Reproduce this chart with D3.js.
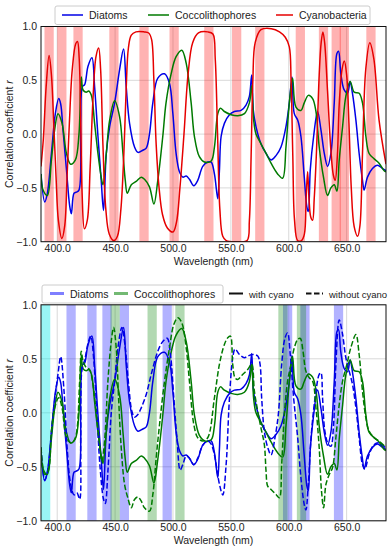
<!doctype html>
<html lang="en">
<head>
<meta charset="utf-8">
<title>Correlation coefficient vs wavelength</title>
<script src="https://d3js.org/d3.v7.min.js"></script>
<style>
  body { margin: 0; background: #fff; }
  svg { display: block; font-family: "Liberation Sans", Arial, sans-serif; }
  .grid line { stroke: #d9d9d9; stroke-width: 1; }
  .tick text { font-size: 10.5px; fill: #222; }
  .lab { font-size: 10.5px; fill: #222; }
  .leg { font-size: 10.5px; fill: #222; }
  .leg2 { font-size: 9.5px; fill: #222; }
</style>
</head>
<body>
<svg id="chart" width="391" height="550"></svg>
<script>
// wavelength (nm), correlation r
var diatoms = [[386,-0.37],[389.2,-0.63],[391.5,-0.55],[395,-0.18],[398.4,0.19],[401.3,0.33],[403,0.28],[405,0.04],[408,-0.33],[410.8,-0.67],[412.2,-0.74],[414.5,-0.55],[416.5,-0.54],[418.8,-0.52],[420.3,0.13],[421.7,0.44],[423.7,0.46],[426.6,0.63],[430,0.71],[432.3,0.44],[435.2,-0.02],[438,-0.43],[440,-0.71],[442.4,-0.18],[445.3,0.07],[449.6,0.29],[453.9,0.6],[457.3,0.79],[459.6,0.44],[462.5,0.1],[466.8,-0.12],[469.7,-0.17],[474,-0.15],[476.9,-0.13],[479.7,0.0],[482.6,0.29],[486.9,0.52],[492.7,0.56],[497,0.47],[499.9,0.19],[502.7,-0.18],[505.6,-0.35],[508.5,-0.4],[511.4,-0.39],[514.2,-0.42],[518,-0.48],[521.4,-0.43],[525.7,-0.3],[530,-0.26],[533,-0.26],[535.8,-0.37],[538.7,-0.6],[540.1,-0.34],[541.6,-0.02],[544.4,0.1],[548.8,0.18],[553,0.21],[558.8,0.22],[563.1,0.27],[566,0.35],[568,0.55],[569.4,0.22],[571.7,0.07],[576,-0.09],[580.4,-0.18],[584.7,-0.24],[589,-0.2],[593.3,-0.12],[597.6,0.07],[600.5,0.29],[602.8,0.53],[604.8,0.19],[607.7,0.13],[610.5,-0.02],[613.4,-0.4],[615.7,-0.68],[616.9,-0.72],[618.6,-0.33],[621.5,-0.02],[624.9,0.21],[627.8,0.04],[630.7,-0.18],[633.5,-0.3],[636.4,-0.18],[639.3,0.29],[641.6,0.75],[643,0.77],[645,0.56],[647.9,0.41],[650.8,0.38],[653,0.49],[655,0.38],[658,0.13],[660.8,-0.18],[663.7,-0.43],[665.1,-0.52],[668,-0.4],[672.3,-0.32],[676.6,-0.29],[681,-0.32],[684,-0.34]];

var cocco = [[386,-0.37],[387.8,-0.52],[391.5,-0.57],[395,-0.24],[397.8,0.04],[400.7,0.19],[404.2,0.1],[408,-0.18],[411.6,-0.28],[415.7,-0.24],[418.8,0.0],[420.8,0.53],[422.3,0.41],[425,0.39],[427.2,0.4],[429.5,0.36],[432.3,0.1],[435.2,-0.18],[438,-0.4],[439.5,-0.47],[442.4,-0.18],[445.3,0.13],[449.6,0.31],[453.9,0.16],[456.8,-0.18],[458.8,-0.43],[460.5,-0.55],[464,-0.47],[468.2,-0.44],[472.6,-0.4],[475.4,-0.42],[479.7,-0.49],[483.5,-0.65],[486.9,-0.43],[491.2,-0.02],[494,0.29],[498.4,0.56],[502.7,0.72],[507.6,0.78],[511.4,0.66],[515.7,0.29],[518.5,-0.02],[522.8,-0.21],[527.2,-0.26],[533,-0.25],[535.8,-0.12],[538.7,0.19],[541,0.24],[544.4,0.21],[550.2,0.18],[556,0.17],[561.7,0.19],[566,0.29],[568,0.45],[569.7,0.13],[571.7,0.0],[576,-0.09],[580.4,-0.18],[584.7,-0.27],[590.4,-0.37],[594.7,-0.41],[597.6,-0.12],[600.5,0.29],[603.3,0.52],[606.2,0.25],[610.5,0.22],[613.4,0.29],[616.9,0.36],[620.6,0.33],[623.5,0.21],[626.3,-0.12],[630,-0.4],[633.5,-0.57],[636.4,-0.5],[639.3,-0.47],[641.6,-0.53],[643.6,-0.24],[646.5,0.07],[649.3,0.35],[653,0.49],[656.5,0.39],[660.8,0.38],[663.7,0.29],[666.6,-0.02],[669.4,-0.18],[673.8,-0.23],[678,-0.27],[682.4,-0.34],[684,-0.35]];

var cyano = [[386,-0.3],[388,-0.05],[390.5,0.45],[393,0.73],[395,0.55],[397,0.1],[399,-0.4],[401,-0.8],[404,-0.97],[406.5,-0.85],[408.5,-0.4],[410.5,0.1],[413,0.6],[416,0.84],[417.5,0.86],[419,0.7],[420.5,0.0],[421.5,-0.55],[423.5,-0.88],[426,-0.8],[428.5,-0.3],[431,0.35],[433.5,0.72],[435.8,0.8],[437.5,0.6],[439.5,-0.1],[442,-0.7],[445,-0.93],[449,-0.99],[452,-0.95],[455,-0.7],[457.5,-0.2],[459.5,0.4],[461.5,0.8],[464,0.92],[468,0.95],[475,0.95],[479,0.94],[481.5,0.88],[483.5,0.5],[485.5,-0.1],[488,-0.5],[491,-0.75],[495,-0.87],[500,-0.91],[503,-0.82],[506,-0.5],[509.5,0.0],[513,0.55],[517,0.85],[522,0.94],[530,0.95],[534.5,0.93],[536.5,0.7],[538.5,0.0],[540.5,-0.7],[543,-0.95],[546,-0.99],[556,-1.0],[564,-0.99],[566,-0.8],[567.5,-0.2],[569,0.5],[571,0.85],[576,0.97],[585,0.98],[592,0.95],[597,0.9],[600.5,0.81],[602,0.5],[603.5,-0.2],[605,-0.8],[607.7,-0.99],[611,-0.99],[613.5,-0.93],[615,-0.6],[616.3,-0.35],[617.5,-0.6],[619,-0.77],[620.6,-0.8],[622,-0.6],[624,-0.15],[626.3,0.55],[628,0.85],[629.5,0.95],[631,0.85],[633.5,0.4],[636.4,-0.15],[638.5,-0.38],[640.1,-0.43],[642,-0.2],[643.6,0.28],[646,0.6],[648,0.68],[650,0.55],[652,0.1],[654,-0.5],[656.5,-0.86],[659.5,-0.95],[661.5,-0.85],[663.7,-0.18],[666.5,0.6],[670,0.85],[673.5,0.7],[678,0.13],[684,-0.28]];

var diatomsNoCyano = [[386,-0.32],[389.2,-0.62],[391.5,-0.55],[396.4,-0.02],[400.7,0.36],[403,0.52],[405.9,0.2],[408.8,-0.36],[411.6,-0.66],[414.5,-0.76],[417,-0.74],[419.4,-0.8],[420.3,-0.2],[421.4,0.4],[424,0.5],[427,0.66],[429,0.71],[431.5,0.5],[434,0.05],[437,-0.5],[440,-0.8],[441.5,-0.84],[443.8,-0.54],[446.7,0.0],[449.6,0.29],[452.4,0.6],[455.9,0.79],[458.8,0.6],[461.7,0.26],[464.5,0.015],[466.8,-0.04],[469.7,-0.015],[472.6,0.046],[476.9,0.17],[481.2,0.355],[486.9,0.57],[491.2,0.66],[495,0.69],[497.8,0.54],[500.7,0.14],[503.6,-0.26],[506.2,-0.53],[508.5,-0.48],[511.4,-0.4],[514.2,-0.42],[518,-0.48],[521.4,-0.42],[525.7,-0.3],[530,-0.26],[533,-0.29],[535.8,-0.39],[537.3,-0.48],[540.1,-0.66],[543,-0.76],[545.9,-0.48],[548.8,0.14],[551.6,0.51],[553.6,0.59],[557.4,0.54],[561.7,0.51],[564.6,0.525],[568.9,0.54],[573.2,0.525],[575.2,0.45],[576.6,0.14],[578.9,-0.17],[581.8,-0.32],[584.7,-0.39],[588.1,-0.23],[591,-0.015],[593.9,0.45],[596.7,0.69],[599,0.74],[601.3,0.54],[604.2,0.14],[607.7,-0.23],[610.5,-0.6],[613.4,-0.85],[614.8,-0.9],[616.9,-0.66],[619.7,-0.17],[623.5,0.2],[626.3,0.355],[627.8,0.37],[629.2,0.14],[631.2,-0.17],[634.1,-0.29],[636.4,-0.31],[638.7,-0.11],[640.7,0.45],[643.6,0.86],[646.5,0.725],[649.3,0.51],[652.2,0.386],[655.1,0.262],[658,0.046],[660.8,-0.23],[663.7,-0.48],[665.7,-0.52],[669.4,-0.386],[673.8,-0.293],[678,-0.278],[684,-0.33]];

var coccoNoCyano = [[386,-0.32],[389.2,-0.57],[392.1,-0.54],[395,-0.17],[397.8,0.046],[401.3,0.14],[404.2,0.046],[408,-0.23],[412.2,-0.28],[415.7,-0.23],[419.4,0.29],[420.8,0.57],[422.3,0.48],[425,0.42],[428,0.4],[430.9,0.26],[433.8,-0.015],[436.6,-0.293],[438.6,-0.45],[440.9,-0.262],[443.8,0.293],[446.7,0.664],[448.7,0.79],[451,0.6],[453,0.139],[455.3,-0.324],[458.2,-0.664],[461,-0.787],[464,-0.88],[466.8,-0.802],[469.7,-0.78],[472.6,-0.818],[475.4,-0.88],[479.7,-0.91],[482.6,-0.756],[485.5,-0.417],[488.4,-0.108],[492.7,0.293],[497,0.602],[500.7,0.818],[504.2,0.88],[507.6,0.833],[511.4,0.602],[514.2,0.293],[518,-0.108],[521.4,-0.231],[525.7,-0.262],[530,-0.231],[535.8,0.139],[540.1,0.448],[544.4,0.633],[547.3,0.694],[549.6,0.71],[551.6,0.448],[553.6,0.324],[555.9,0.309],[560.2,0.355],[564.6,0.401],[568,0.448],[570.3,0.201],[573.2,0.015],[576,-0.139],[578.9,-0.293],[580.4,-0.54],[581.8,-0.679],[584.7,-0.71],[589,-0.756],[591.9,-0.787],[593.9,-0.478],[596.2,-0.015],[599,0.293],[601.9,0.448],[604.8,0.602],[607.7,0.679],[610,0.688],[612.3,0.571],[614.8,0.386],[617.7,0.324],[620.6,0.293],[623.5,0.046],[626.3,-0.324],[628.3,-0.725],[630.1,-0.88],[632.1,-0.664],[635,-0.571],[637.8,-0.509],[640.7,-0.231],[643.6,0.077],[646.5,0.293],[650.2,0.448],[653.6,0.602],[658,0.725],[660.8,0.54],[663.7,0.201],[666.6,-0.046],[669.4,-0.17],[673.8,-0.231],[678,-0.262],[684,-0.32]];

// highlighted wavelengths (band centres, nm)
var cyanoBands = [393, 404, 418, 449, 475, 501, 531, 555, 575, 610, 630, 641, 648, 671];
var diatomBands = [412, 430, 443, 458, 495, 599, 614, 643];
var coccoBands = [450, 482, 506, 595, 611];
var cyanBands = [390];
var bandHalf = 4;

var xTicks = [400, 450, 500, 550, 600, 650];
var yTicks = [-1, -0.5, 0, 0.5, 1];
var xDomain = [386, 684];

var svg = d3.select("#chart");

function panel(top, bottom, id) {
  var x = d3.scaleLinear().domain(xDomain).range([41, 386]);
  var y = d3.scaleLinear().domain([-1, 1]).range([bottom, top]);
  var g = svg.append("g");

  g.append("clipPath").attr("id", id).append("rect")
    .attr("x", 41).attr("y", top).attr("width", 345).attr("height", bottom - top);

  var grid = g.append("g").attr("class", "grid");
  grid.selectAll(".vx").data(xTicks).enter().append("line")
    .attr("x1", x).attr("x2", x).attr("y1", top).attr("y2", bottom);
  grid.selectAll(".hy").data(yTicks).enter().append("line")
    .attr("x1", 41).attr("x2", 386).attr("y1", y).attr("y2", y);

  var xAxis = g.append("g").attr("transform", "translate(0," + bottom + ")")
    .call(d3.axisBottom(x).tickValues(xTicks).tickFormat(d3.format(".1f")).tickSize(0).tickPadding(3));
  xAxis.select(".domain").remove();
  var yAxis = g.append("g").attr("transform", "translate(41,0)")
    .call(d3.axisLeft(y).tickValues(yTicks).tickFormat(d3.format(".1f")).tickSize(0).tickPadding(4));
  yAxis.select(".domain").remove();

  g.append("text").attr("class", "lab").attr("x", 213.5).attr("y", bottom + 23)
    .attr("text-anchor", "middle").text("Wavelength (nm)");
  var yl = g.append("text").attr("class", "lab").attr("text-anchor", "middle")
    .attr("transform", "translate(13," + ((top + bottom) / 2) + ") rotate(-90)");
  yl.append("tspan").text("Correlation coefficient ");
  yl.append("tspan").attr("font-style", "italic").text("r");

  var plot = g.append("g").attr("clip-path", "url(#" + id + ")");
  return { x: x, y: y, g: g, plot: plot, top: top, bottom: bottom };
}

function bands(p, centres, color, op) {
  p.plot.append("g").selectAll("rect").data(centres).enter().append("rect")
    .attr("x", function(d) { return p.x(d - bandHalf); })
    .attr("width", function(d) { return p.x(d + bandHalf) - p.x(d - bandHalf); })
    .attr("y", p.top).attr("height", p.bottom - p.top)
    .attr("fill", color).attr("fill-opacity", op);
}

function curve(p, data, color, dash) {
  var line = d3.line()
    .x(function(d) { return p.x(d[0]); })
    .y(function(d) { return p.y(d[1]); })
    .curve(d3.curveCatmullRom.alpha(0.5));
  p.plot.append("path").datum(data).attr("d", line)
    .attr("fill", "none").attr("stroke", color).attr("stroke-width", 1.5)
    .attr("stroke-linejoin", "round")
    .attr("stroke-dasharray", dash ? "5.5,2.4" : null);
}

function frame(p) {
  p.g.append("rect").attr("x", 41).attr("y", p.top).attr("width", 345).attr("height", p.bottom - p.top)
    .attr("fill", "none").attr("stroke", "#111").attr("stroke-width", 1);
}

var BLUE = "#0000e6", GREEN = "#007a00", RED = "#e60000";

// top panel
var p1 = panel(26.5, 241.7, "clipTop");
bands(p1, cyanoBands, "#ff0000", 0.3);
curve(p1, diatoms, BLUE);
curve(p1, cocco, GREEN);
curve(p1, cyano, RED);
frame(p1);

// bottom panel
var p2 = panel(304.8, 520.8, "clipBot");
bands(p2, cyanBands, "#00e5e5", 0.4);
bands(p2, diatomBands, "#0000ff", 0.3);
bands(p2, coccoBands, "#008000", 0.3);
curve(p2, diatoms, BLUE);
curve(p2, cocco, GREEN);
curve(p2, diatomsNoCyano, BLUE, true);
curve(p2, coccoNoCyano, GREEN, true);
frame(p2);

// legends
function legend(items, box, cls) {
  var lg = svg.append("g");
  if (box) {
    lg.append("rect").attr("x", box[0]).attr("y", box[1]).attr("width", box[2]).attr("height", box[3])
      .attr("rx", 2).attr("fill", "#fff").attr("stroke", "#ccc");
  }
  items.forEach(function(it) {
    lg.append("line").attr("x1", it.x).attr("x2", it.x + it.w).attr("y1", it.y).attr("y2", it.y)
      .attr("stroke", it.color).attr("stroke-width", it.sw)
      .attr("stroke-opacity", it.op || 1)
      .attr("stroke-dasharray", it.dash || null);
    lg.append("text").attr("class", cls).attr("x", it.x + it.w + 6).attr("y", it.y + 4).text(it.label);
  });
}

legend([
  { x: 62, w: 21, y: 15, color: BLUE, sw: 1.5, label: "Diatoms" },
  { x: 148, w: 21, y: 15, color: GREEN, sw: 1.5, label: "Coccolithophores" },
  { x: 276, w: 17, y: 15, color: RED, sw: 1.5, label: "Cyanobacteria" }
], [55, 6, 315, 18.5], "leg");

legend([
  { x: 50, w: 14, y: 293.5, color: "#0000ff", sw: 3, op: 0.5, label: "Diatoms" },
  { x: 114, w: 14, y: 293.5, color: "#008000", sw: 3, op: 0.55, label: "Coccolithophores" }
], [42, 285, 181, 18], "leg");

legend([
  { x: 229, w: 14, y: 293.5, color: "#111", sw: 2, label: "with cyano" },
  { x: 306, w: 17, y: 293.5, color: "#111", sw: 2, dash: "5.5,2.5", label: "without cyano" }
], null, "leg2");
</script>
</body>
</html>
